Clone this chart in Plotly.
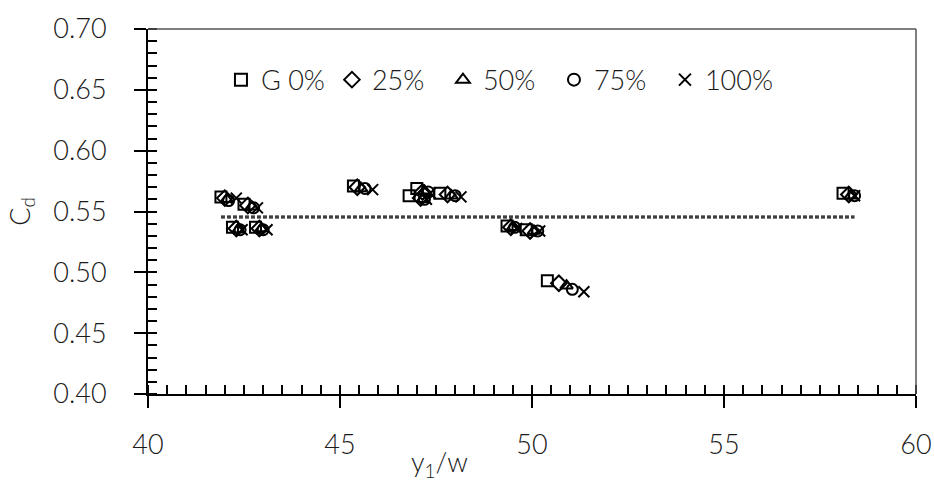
import plotly.graph_objects as go

# Discharge coefficient C_d against relative upstream depth y1/w,
# five gravel ratios (G 0% .. 100%), twelve runs per series.
series_names = ["G 0%", "25%", "50%", "75%", "100%"]

x_g0 = [41.90, 42.50, 42.20, 42.80, 45.35, 47.00, 46.80, 47.60, 49.35, 49.85, 50.40, 58.10]
y_g0 = [0.562, 0.556, 0.537, 0.537, 0.571, 0.569, 0.563, 0.565, 0.538, 0.535, 0.493, 0.565]

x_g25 = [42.00, 42.60, 42.30, 42.90, 45.45, 47.15, 47.10, 47.80, 49.45, 49.95, 50.70, 58.25]
y_g25 = [0.561, 0.555, 0.536, 0.536, 0.570, 0.566, 0.561, 0.564, 0.537, 0.534, 0.491, 0.564]

x_g50 = [42.05, 42.70, 42.35, 42.95, 45.55, 47.20, 47.15, 47.90, 49.50, 50.05, 50.90, 58.30]
y_g50 = [0.560, 0.554, 0.535, 0.536, 0.569, 0.567, 0.560, 0.563, 0.537, 0.534, 0.489, 0.563]

x_g75 = [42.10, 42.75, 42.40, 43.00, 45.65, 47.30, 47.20, 48.00, 49.55, 50.15, 51.05, 58.40]
y_g75 = [0.559, 0.553, 0.535, 0.535, 0.569, 0.566, 0.560, 0.563, 0.537, 0.534, 0.486, 0.563]

x_g100 = [42.30, 42.85, 42.45, 43.10, 45.85, 47.35, 47.25, 48.15, 49.60, 50.20, 51.35, 58.40]
y_g100 = [0.561, 0.553, 0.535, 0.535, 0.568, 0.565, 0.560, 0.562, 0.536, 0.534, 0.484, 0.563]

# Mean-value reference lines
mean_x = [41.9, 58.4]
mean_y_a = [0.5462, 0.5462]
mean_y_b = [0.5448, 0.5448]

x_ticks = [40, 45, 50, 55, 60]
y_ticks = [0.40, 0.45, 0.50, 0.55, 0.60, 0.65, 0.70]

FONT = "Lato"
TXT = dict(family=FONT, size=27, color="#1a1a1a", weight=300)
black = "#000000"

series = [
    (series_names[0], x_g0, y_g0, "square-open", 11),
    (series_names[1], x_g25, y_g25, "diamond-open", 12),
    (series_names[2], x_g50, y_g50, "triangle-up-open", 11),
    (series_names[3], x_g75, y_g75, "circle-open", 11),
    (series_names[4], x_g100, y_g100, "x-thin-open", 11),
]

fig = go.Figure()

for ys in (mean_y_a, mean_y_b):
    fig.add_trace(go.Scatter(
        x=mean_x, y=ys, mode="lines", showlegend=False,
        line=dict(color=black, width=1.3, dash="4px,2px"),
        hoverinfo="skip",
    ))

for name, xs, ys, sym, size in series:
    fig.add_trace(go.Scatter(
        x=xs, y=ys, mode="markers", name=name,
        marker=dict(symbol=sym, size=size, color=black,
                    line=dict(color=black, width=2)),
    ))

# Short inner stubs at the major ticks so they cross the axis lines
fig.add_trace(go.Scatter(x=[], y=[], xaxis="x2", yaxis="y2", showlegend=False))

fig.update_layout(
    width=934, height=489,
    margin=dict(l=148, r=18, t=29, b=95),
    paper_bgcolor="white", plot_bgcolor="white",
    font=TXT,
    showlegend=True,
    legend=dict(
        orientation="h", x=0.095, y=0.86, xanchor="left", yanchor="middle",
        bgcolor="rgba(0,0,0,0)", entrywidth=66, entrywidthmode="pixels",
        font=TXT, itemsizing="constant",
    ),
    xaxis=dict(
        range=[40, 60], tickvals=x_ticks, ticktext=[str(v) for v in x_ticks],
        showgrid=False, zeroline=False, automargin=False,
        showline=True, linecolor=black, linewidth=2,
        ticks="outside", ticklen=12, tickwidth=1.5, tickcolor=black,
        ticklabelstandoff=14,
        minor=dict(dtick=0.5, ticks="inside", ticklen=9, tickwidth=1.5,
                   tickcolor=black, showgrid=False),
    ),
    yaxis=dict(
        range=[0.40, 0.70], tickvals=y_ticks,
        ticktext=[f"{v:.2f}" for v in y_ticks],
        showgrid=False, zeroline=False, automargin=False,
        showline=True, linecolor=black, linewidth=2,
        ticks="outside", ticklen=12, tickwidth=1.5, tickcolor=black,
        ticklabelstandoff=22,
        minor=dict(dtick=0.01, ticks="inside", ticklen=9, tickwidth=1.5,
                   tickcolor=black, showgrid=False),
    ),
    xaxis2=dict(
        range=[40, 60], tickvals=x_ticks, overlaying="x", anchor="y",
        side="bottom", showticklabels=False, showgrid=False, zeroline=False,
        showline=False, ticks="inside", ticklen=9, tickwidth=1.5,
        tickcolor=black, automargin=False,
    ),
    yaxis2=dict(
        range=[0.40, 0.70], tickvals=y_ticks, overlaying="y", anchor="x",
        side="left", showticklabels=False, showgrid=False, zeroline=False,
        showline=False, ticks="inside", ticklen=9, tickwidth=1.5,
        tickcolor=black, automargin=False,
    ),
    shapes=[
        dict(type="line", xref="paper", yref="paper", x0=0, x1=1, y0=1, y1=1,
             line=dict(color="#555555", width=1.5)),
        dict(type="line", xref="paper", yref="paper", x0=1, x1=1, y0=0, y1=1,
             line=dict(color="#555555", width=1.5)),
    ],
    annotations=[
        dict(text="C<sub>d</sub>", xref="paper", yref="paper",
             x=-0.165, y=0.5, textangle=-90, showarrow=False,
             xanchor="center", yanchor="middle", font=TXT),
        dict(text="y<sub>1</sub>/w", xref="paper", yref="paper",
             x=0.38, y=-0.19, showarrow=False,
             xanchor="center", yanchor="middle", font=TXT),
    ],
)

fig.write_html("out.html")
